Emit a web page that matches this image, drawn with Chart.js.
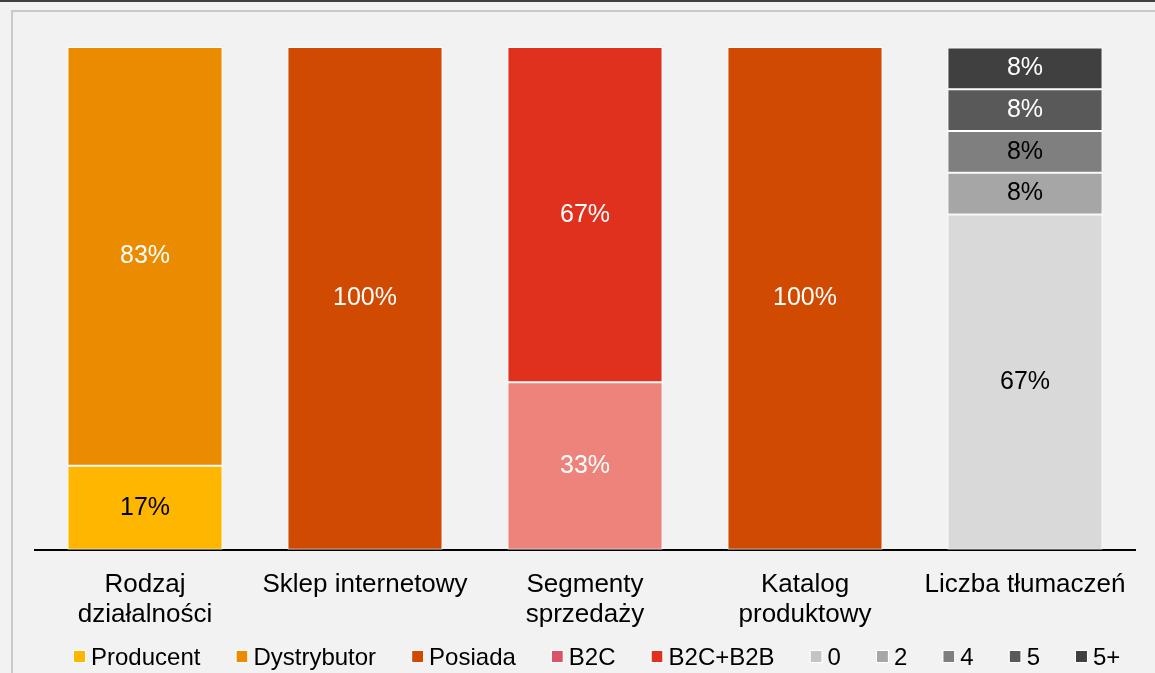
<!DOCTYPE html>
<html>
<head>
<meta charset="utf-8">
<script src="https://cdn.jsdelivr.net/npm/chart.js@4/dist/chart.umd.min.js"></script>
<style>
  html, body { margin: 0; padding: 0; background: #f2f2f2; }
  #wrap { position: relative; width: 1155px; height: 673px; overflow: hidden; }
  #topLine { position: absolute; left: 0; top: 0; width: 100%; height: 2px; background: #404040; }
  #frame { position: absolute; left: 11px; top: 10px; right: -5px; bottom: -5px;
           border-top: 2px solid #c9c9c9; border-left: 2px solid #c9c9c9; }
  #chart { position: absolute; left: 0; top: 0; }
</style>
</head>
<body>
<div id="wrap">
  <div id="topLine"></div>
  <div id="frame"></div>
  <canvas id="chart" width="1155" height="673"></canvas>
</div>
<script>
const categories = [
  ["Rodzaj", "działalności"],
  "Sklep internetowy",
  ["Segmenty", "sprzedaży"],
  ["Katalog", "produktowy"],
  "Liczba tłumaczeń"
];

const seriesNames = ["Producent", "Dystrybutor", "Posiada", "B2C", "B2C+B2B", "0", "2", "4", "5", "5+"];

// percent shares per category
const producent   = [16.7, null, null, null, null];
const dystrybutor = [83.3, null, null, null, null];
const posiada     = [null, 100, null, 100, null];
const b2c         = [null, null, 33.3, null, null];
const b2cB2b      = [null, null, 66.7, null, null];
const t0          = [null, null, null, null, 66.7];
const t2          = [null, null, null, null, 8.3];
const t4          = [null, null, null, null, 8.3];
const t5          = [null, null, null, null, 8.3];
const t5plus      = [null, null, null, null, 8.3];

const seriesValues = [producent, dystrybutor, posiada, b2c, b2cB2b, t0, t2, t4, t5, t5plus];

const barColors    = ["#ffb600", "#eb8c00", "#d04a02", "#ed837a", "#e0301e", "#d9d9d9", "#a6a6a6", "#7f7f7f", "#595959", "#404040"];
const legendColors = ["#ffb600", "#eb8c00", "#d04a02", "#db536a", "#e0301e", "#c4c4c4", "#a6a6a6", "#7f7f7f", "#595959", "#404040"];
const labelColors  = ["#000", "#fff", "#fff", "#fff", "#fff", "#000", "#000", "#000", "#fff", "#fff"];

const FONT = "'Liberation Sans', Arial, sans-serif";

// simple inline data labels
const valueLabels = {
  id: "valueLabels",
  afterDatasetsDraw(chart) {
    const ctx = chart.ctx;
    ctx.save();
    ctx.font = "25px " + FONT;
    ctx.textAlign = "center";
    ctx.textBaseline = "middle";
    chart.data.datasets.forEach((ds, i) => {
      const meta = chart.getDatasetMeta(i);
      meta.data.forEach((bar, j) => {
        const v = ds.data[j];
        if (v == null) return;
        ctx.fillStyle = labelColors[i];
        ctx.fillText(Math.round(v) + "%", bar.x, (bar.y + bar.base) / 2);
      });
    });
    ctx.restore();
  }
};

// legend row drawn by hand so the spacing follows the original
const bottomLegend = {
  id: "bottomLegend",
  afterDraw(chart) {
    const ctx = chart.ctx;
    ctx.save();
    ctx.font = "24px " + FONT;
    ctx.textBaseline = "alphabetic";
    ctx.textAlign = "left";
    let x = 74;
    chart.data.datasets.forEach((ds, i) => {
      ctx.fillStyle = legendColors[i];
      ctx.fillRect(x, 651, 11, 11);
      ctx.strokeStyle = "#fff";
      ctx.lineWidth = 1;
      ctx.strokeRect(x - 0.5, 650.5, 12, 12);
      ctx.fillStyle = "#000";
      ctx.fillText(ds.label, x + 17, 665);
      x += 17 + ctx.measureText(ds.label).width + 36;
    });
    ctx.restore();
  }
};

const datasets = seriesNames.map((name, i) => ({
  label: name,
  data: seriesValues[i],
  backgroundColor: barColors[i],
  borderColor: "#ffffff",
  borderWidth: 1,
  borderSkipped: false
}));

new Chart(document.getElementById("chart"), {
  type: "bar",
  data: { labels: categories, datasets: datasets },
  plugins: [valueLabels, bottomLegend],
  options: {
    responsive: false,
    animation: false,
    layout: { padding: { left: 35, right: 20, top: 47, bottom: 23 } },
    scales: {
      x: {
        stacked: true,
        grid: { display: false, drawTicks: false },
        border: { display: true, color: "#000", width: 2 },
        ticks: { color: "#000", font: { family: FONT, size: 26, lineHeight: 1.12 }, padding: 21, maxRotation: 0, autoSkip: false }
      },
      y: {
        stacked: true,
        display: false,
        min: 0,
        max: 100
      }
    },
    datasets: { bar: { categoryPercentage: 1, barPercentage: 0.705 } },
    plugins: {
      tooltip: { enabled: false },
      legend: { display: false }
    }
  }
});
</script>
</body>
</html>
